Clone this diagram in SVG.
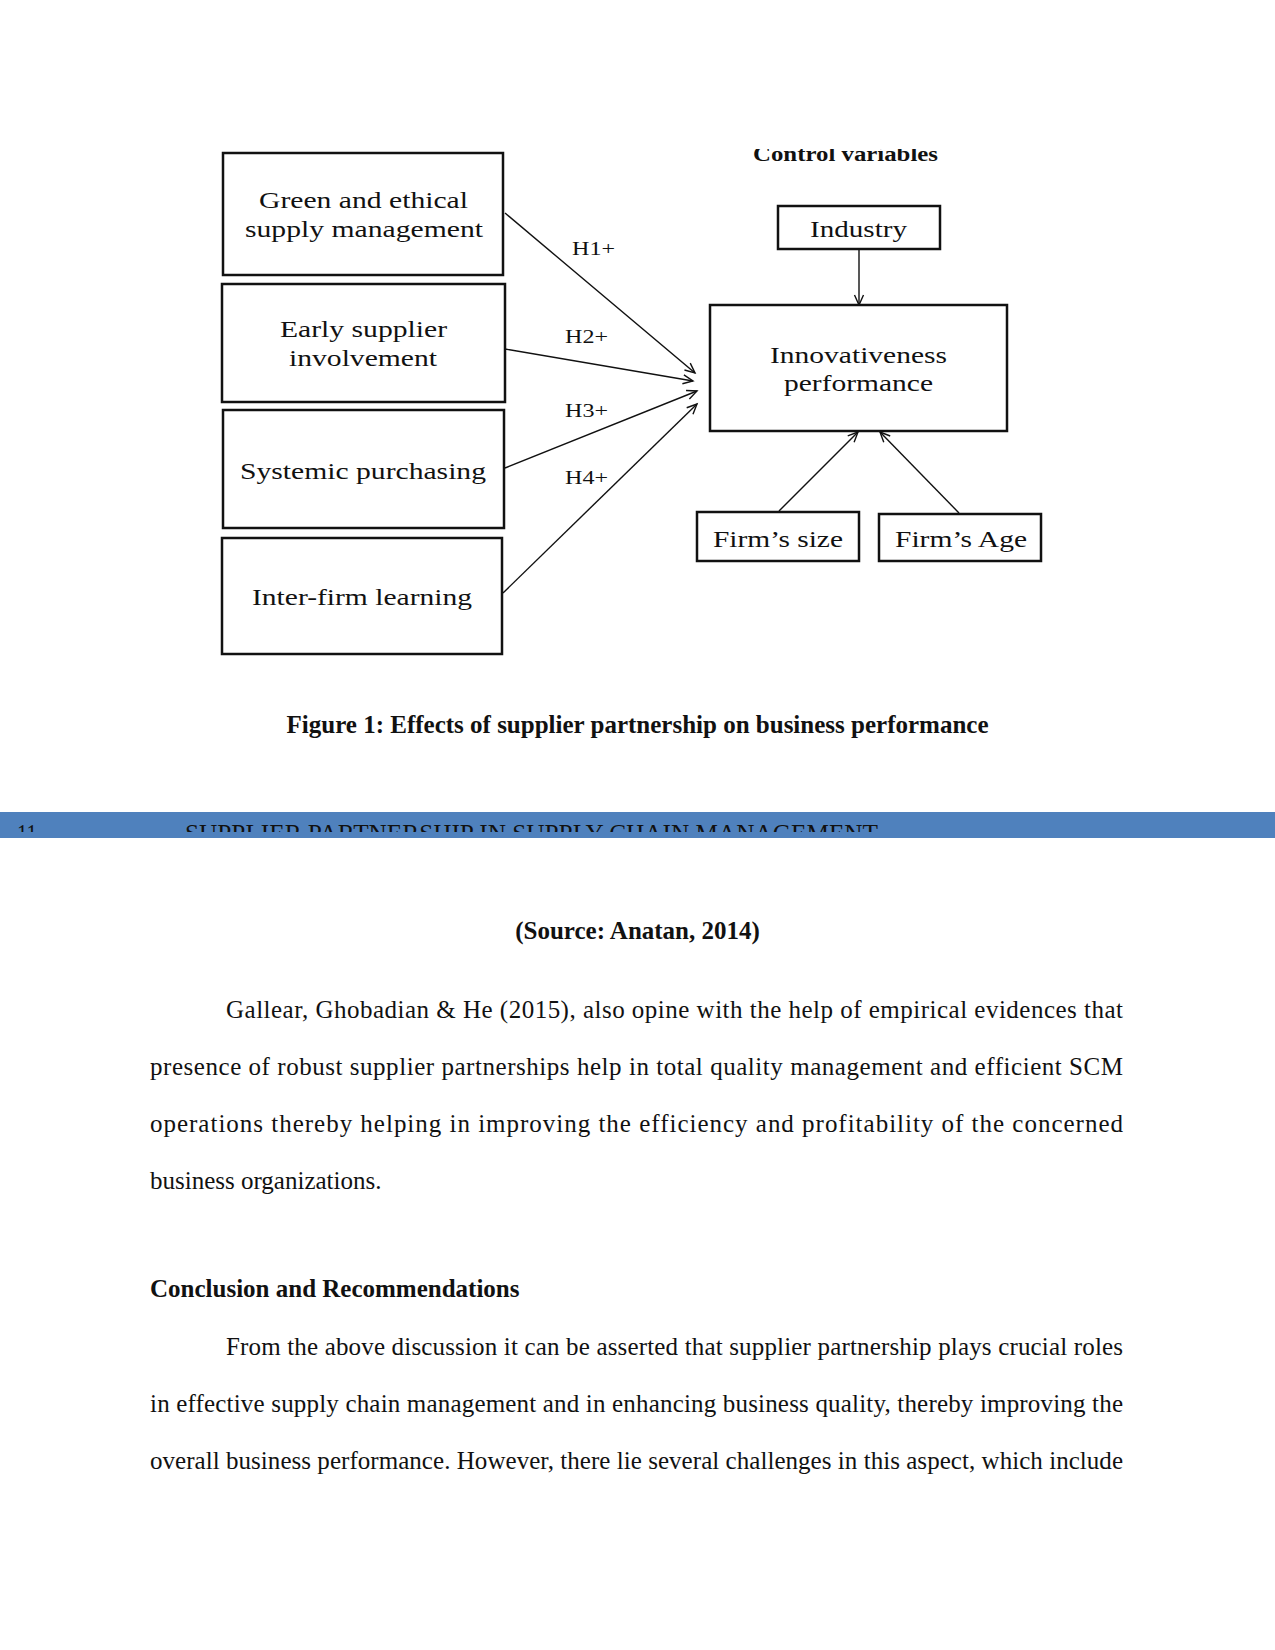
<svg xmlns="http://www.w3.org/2000/svg" width="1275" height="1650" viewBox="0 0 1275 1650">
<style>
.box{fill:#fff;stroke:#111;stroke-width:2.5}
.dt{font-family:"Liberation Serif","Times New Roman",serif;font-size:24px;fill:#111;text-anchor:middle}
.hl{font-family:"Liberation Serif","Times New Roman",serif;font-size:19px;fill:#111}
.conn{stroke:#111;stroke-width:1.4;fill:none;marker-end:url(#ah)}
.body{font-family:"Liberation Serif","Times New Roman",serif;font-size:25px;fill:#111}
.bold{font-weight:bold}
</style>
<defs>
<marker id="ah" viewBox="0 0 12 10" refX="11" refY="5" markerWidth="12" markerHeight="10" markerUnits="userSpaceOnUse" orient="auto" overflow="visible">
<path d="M1,0.5 L11,5 L1,9.5" fill="none" stroke="#111" stroke-width="1.4"/>
</marker>
<clipPath id="cvclip"><rect x="700" y="149" width="300" height="30"/></clipPath>
<clipPath id="hdclip"><rect x="0" y="812" width="1275" height="20"/></clipPath>
</defs>
<rect width="1275" height="1650" fill="#fff"/>

<g id="control-variables-label">
<text x="845.5" y="161" clip-path="url(#cvclip)" font-family="Liberation Serif, serif" font-weight="bold" font-size="20" text-anchor="middle" textLength="185" lengthAdjust="spacingAndGlyphs" fill="#111">Control variables</text>
</g>

<g id="connectors">
<line class="conn" x1="505" y1="213" x2="695" y2="373"/>
<line class="conn" x1="505" y1="349" x2="693" y2="381"/>
<line class="conn" x1="505" y1="468" x2="697" y2="391"/>
<line class="conn" x1="503" y1="593" x2="697" y2="404"/>
<line class="conn" x1="859" y1="249" x2="859" y2="305"/>
<line class="conn" x1="779" y1="511" x2="858" y2="432"/>
<line class="conn" x1="959" y1="513" x2="880" y2="432"/>
<text class="hl" x="572" y="255" textLength="43" lengthAdjust="spacingAndGlyphs">H1+</text>
<text class="hl" x="565" y="343" textLength="43" lengthAdjust="spacingAndGlyphs">H2+</text>
<text class="hl" x="565" y="417" textLength="43" lengthAdjust="spacingAndGlyphs">H3+</text>
<text class="hl" x="565" y="484" textLength="43" lengthAdjust="spacingAndGlyphs">H4+</text>
</g>

<g id="green-ethical">
<rect class="box" x="223" y="153" width="280" height="122"/>
<text class="dt" x="363.5" y="208" textLength="209" lengthAdjust="spacingAndGlyphs">Green and ethical</text>
<text class="dt" x="364" y="237" textLength="238" lengthAdjust="spacingAndGlyphs">supply management</text>
</g>
<g id="early-supplier">
<rect class="box" x="222" y="284" width="283" height="118"/>
<text class="dt" x="363.5" y="337" textLength="167" lengthAdjust="spacingAndGlyphs">Early supplier</text>
<text class="dt" x="363" y="366" textLength="148" lengthAdjust="spacingAndGlyphs">involvement</text>
</g>
<g id="systemic-purchasing">
<rect class="box" x="223" y="410" width="281" height="118"/>
<text class="dt" x="363" y="479" textLength="246" lengthAdjust="spacingAndGlyphs">Systemic purchasing</text>
</g>
<g id="inter-firm">
<rect class="box" x="222" y="538" width="280" height="116"/>
<text class="dt" x="362" y="605" textLength="220" lengthAdjust="spacingAndGlyphs">Inter-firm learning</text>
</g>
<g id="industry">
<rect class="box" x="778" y="206" width="162" height="43"/>
<text class="dt" x="858.5" y="237" textLength="97" lengthAdjust="spacingAndGlyphs">Industry</text>
</g>
<g id="innovativeness">
<rect class="box" x="710" y="305" width="297" height="126"/>
<text class="dt" x="858.5" y="363" textLength="177" lengthAdjust="spacingAndGlyphs">Innovativeness</text>
<text class="dt" x="858.5" y="391" textLength="149" lengthAdjust="spacingAndGlyphs">performance</text>
</g>
<g id="firms-size">
<rect class="box" x="697" y="512" width="162" height="49"/>
<text class="dt" x="778" y="547" textLength="130" lengthAdjust="spacingAndGlyphs">Firm’s size</text>
</g>
<g id="firms-age">
<rect class="box" x="879" y="514" width="162" height="47"/>
<text class="dt" x="961" y="547" textLength="132" lengthAdjust="spacingAndGlyphs">Firm’s Age</text>
</g>

<text class="body bold" x="637.5" y="733" text-anchor="middle" textLength="702" lengthAdjust="spacingAndGlyphs">Figure 1: Effects of supplier partnership on business performance</text>

<rect x="0" y="812" width="1275" height="26" fill="#4F81BD"/>
<g clip-path="url(#hdclip)">
<text class="body" x="17" y="841.5" textLength="20" lengthAdjust="spacingAndGlyphs">11</text>
<text class="body" x="185" y="841.5" textLength="693" lengthAdjust="spacingAndGlyphs">SUPPLIER PARTNERSHIP IN SUPPLY CHAIN MANAGEMENT</text>
</g>

<text class="body bold" x="637.5" y="939" text-anchor="middle">(Source: Anatan, 2014)</text>

<text class="body" x="226" y="1018" textLength="897" lengthAdjust="spacing">Gallear, Ghobadian &amp; He (2015), also opine with the help of empirical evidences that</text>
<text class="body" x="150" y="1075" textLength="973" lengthAdjust="spacing">presence of robust supplier partnerships help in total quality management and efficient SCM</text>
<text class="body" x="150" y="1132" textLength="973" lengthAdjust="spacing">operations thereby helping in improving the efficiency and profitability of the concerned</text>
<text class="body" x="150" y="1189">business organizations.</text>

<text class="body bold" x="150" y="1297">Conclusion and Recommendations</text>

<text class="body" x="226" y="1355" textLength="897" lengthAdjust="spacing">From the above discussion it can be asserted that supplier partnership plays crucial roles</text>
<text class="body" x="150" y="1412" textLength="973" lengthAdjust="spacing">in effective supply chain management and in enhancing business quality, thereby improving the</text>
<text class="body" x="150" y="1469" textLength="973" lengthAdjust="spacing">overall business performance. However, there lie several challenges in this aspect, which include</text>
</svg>
